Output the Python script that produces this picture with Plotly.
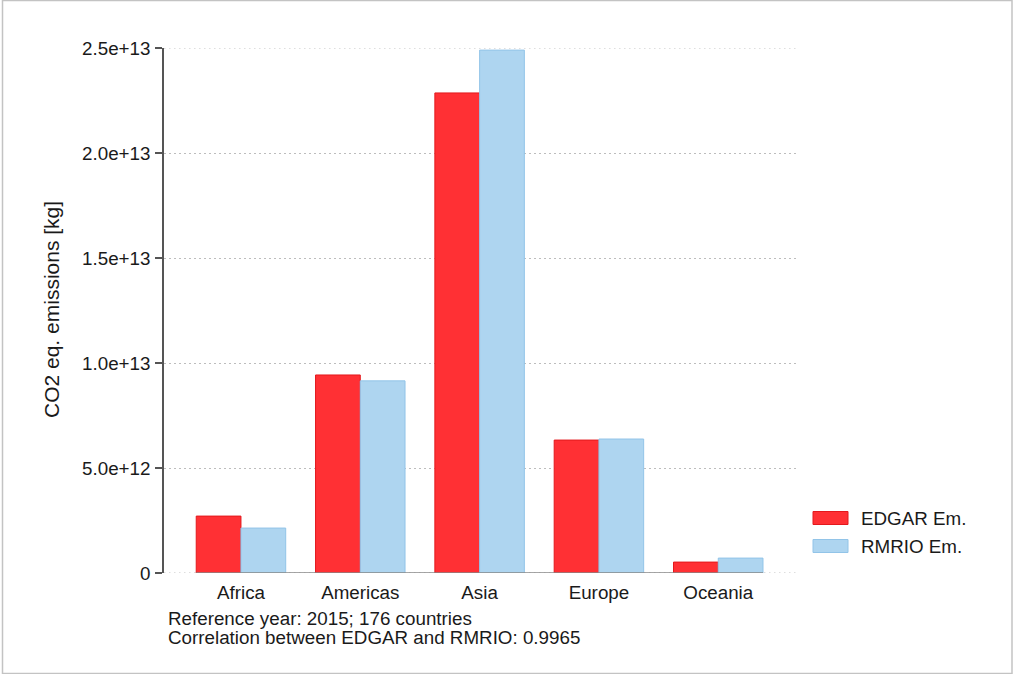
import plotly.graph_objects as go

regions = ["Africa", "Americas", "Asia", "Europe", "Oceania"]
edgar = [2.71e12, 9.43e12, 2.286e13, 6.33e12, 0.52e12]
rmrio = [2.14e12, 9.15e12, 2.49e13, 6.38e12, 0.71e12]
series_names = ["EDGAR Em.", "RMRIO Em."]
ytick_vals = [0, 5e12, 1e13, 1.5e13, 2e13, 2.5e13]
ytick_text = ["0", "5.0e+12", "1.0e+13", "1.5e+13", "2.0e+13", "2.5e+13"]
notes = ["Reference year: 2015; 176 countries",
         "Correlation between EDGAR and RMRIO: 0.9965"]

RED_FILL, RED_LINE = "#ff3034", "#e3191d"
BLUE_FILL, BLUE_LINE = "#aed5f0", "#92c4e8"
FONT = "Liberation Sans, Arial, sans-serif"
TXT = "#1a1a1a"
GRID = "#bdbdbd"
GRID_DASH = "1.5px,3.5px"
FS = 18.8

L, R, T, B = 164, 217, 48, 101
W, H = 1014, 674
PW, PH = W - L - R, H - T - B

def px(x):
    return (x - L) / PW

def py(y):
    return (H - B - y) / PH

fig = go.Figure()
fig.add_trace(go.Bar(x=regions, y=edgar, name=series_names[0],
                     marker=dict(color=RED_FILL, line=dict(color=RED_LINE, width=1))))
fig.add_trace(go.Bar(x=regions, y=rmrio, name=series_names[1],
                     marker=dict(color=BLUE_FILL, line=dict(color=BLUE_LINE, width=1))))

bargap = 0.25
fig.update_layout(
    width=W, height=H,
    margin=dict(l=L, r=R, t=T, b=B, autoexpand=False),
    paper_bgcolor="white", plot_bgcolor="white",
    barmode="group", bargap=bargap, bargroupgap=0,
    showlegend=False,
    font=dict(family=FONT, size=FS, color=TXT),
)
fig.update_xaxes(range=[-0.645, 4.66], showgrid=False, showline=False, ticks="",
                 tickfont=dict(size=FS, color=TXT), zeroline=False, ticklabelstandoff=6)
fig.update_yaxes(range=[0, 2.5e13], tickvals=ytick_vals, ticktext=ytick_text,
                 showline=True, linecolor="#555555", linewidth=1.5,
                 ticks="outside", ticklen=7, tickwidth=1.5, tickcolor="#555555",
                 showgrid=True, gridcolor=GRID, gridwidth=1, griddash=GRID_DASH,
                 zeroline=False, tickfont=dict(size=FS, color=TXT), ticklabelstandoff=1)

# gridlines at range ends (plotly clips them at the edges)
for v in (ytick_vals[0], ytick_vals[-1]):
    fig.add_shape(type="line", xref="paper", yref="y", x0=0, x1=1, y0=v, y1=v,
                  line=dict(color=GRID, width=1, dash=GRID_DASH), layer="below")

# baseline under bar groups
half = (1 - bargap) / 2
fig.add_shape(type="line", xref="x", yref="y", x0=-half, x1=len(regions) - 1 + half,
              y0=0, y1=0, line=dict(color="#8a8a8a", width=1.5))

# y axis title
fig.add_annotation(text="CO2 eq. emissions [kg]", xref="paper", yref="paper",
                   x=px(51), y=py(310), textangle=-90, showarrow=False,
                   xanchor="center", yanchor="middle", font=dict(size=21, color=TXT))

# notes
for i, n in enumerate(notes):
    fig.add_annotation(text=n, xref="paper", yref="paper", x=px(166), y=py(618 + 19 * i),
                       xanchor="left", yanchor="middle", showarrow=False,
                       font=dict(size=FS, color=TXT))

# legend (manual)
sw = [(RED_FILL, RED_LINE), (BLUE_FILL, BLUE_LINE)]
for i, (name, (fc, lc)) in enumerate(zip(series_names, sw)):
    yc = 518 + 28 * i
    fig.add_shape(type="rect", xref="paper", yref="paper",
                  x0=px(813), x1=px(848), y0=py(yc + 6.5), y1=py(yc - 6.5),
                  fillcolor=fc, line=dict(color=lc, width=1))
    fig.add_annotation(text=name, xref="paper", yref="paper", x=px(859), y=py(yc),
                       xanchor="left", yanchor="middle", showarrow=False,
                       font=dict(size=FS, color=TXT))

# outer border
fig.add_shape(type="rect", xref="paper", yref="paper",
              x0=px(2.5), x1=px(1012), y0=py(673.5), y1=py(0.5),
              line=dict(color="#c3c3c3", width=1.5), fillcolor="rgba(0,0,0,0)", layer="above")

fig.write_html("out.html")
